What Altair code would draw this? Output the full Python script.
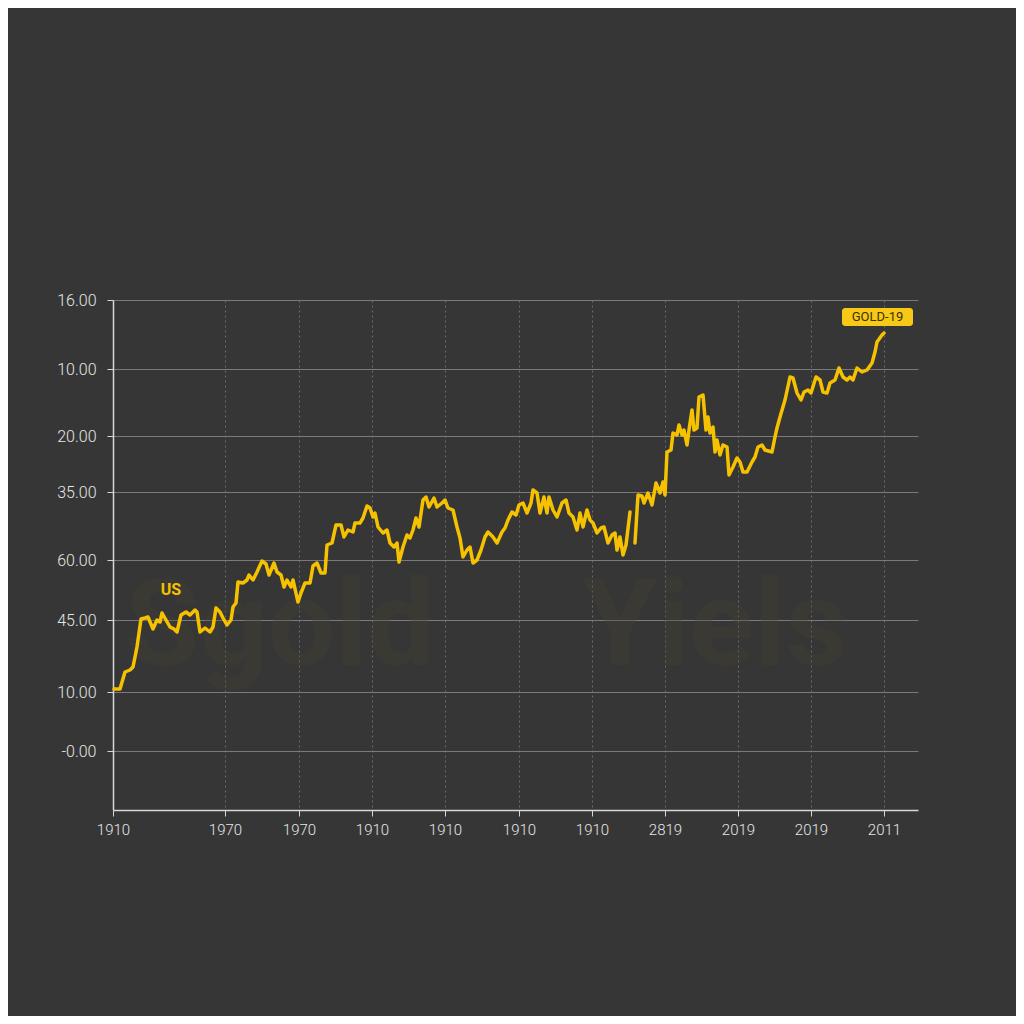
import altair as alt
import pandas as pd

# ---- data ----
# horizontal position (arbitrary time index) and level, segment 1
t1 = [1, 7, 12, 17, 20, 24, 28, 32, 35, 40,
      44, 47, 49, 53, 57, 61, 64, 68, 73, 77,
      82, 84, 87, 92, 97, 100, 103, 107, 110, 114,
      118, 120, 123, 125, 130, 134, 136, 140, 144, 149,
      153, 156, 161, 164, 168, 171, 174, 178, 180, 185,
      188, 192, 197, 200, 204, 208, 212, 214, 219, 223,
      228, 231, 235, 240, 242, 247, 250, 254, 257, 260,
      262, 265, 270, 274, 277, 281, 284, 286, 290, 294,
      297, 300, 303, 306, 310, 313, 316, 321, 324, 329,
      332, 335, 340, 344, 347, 350, 354, 357, 360, 364,
      368, 372, 375, 380, 384, 389, 392, 395, 399, 403,
      406, 410, 414, 418, 420, 424, 427, 431, 434, 436,
      440, 444, 449, 453, 456, 460, 464, 467, 470, 474,
      477, 480, 484, 488, 491, 495, 499, 502, 504, 507,
      510, 513, 517]
v1 = [121, 121, 138, 140, 143, 163, 191, 192, 193, 181,
      190, 188, 197, 190, 183, 181, 178, 195, 198, 195,
      200, 198, 178, 182, 178, 183, 202, 198, 192, 185,
      190, 203, 207, 228, 227, 230, 235, 230, 238, 249,
      246, 235, 247, 238, 235, 223, 230, 223, 230, 208,
      217, 227, 227, 244, 247, 237, 237, 265, 267, 285,
      285, 273, 280, 278, 287, 287, 292, 304, 302, 293,
      297, 283, 277, 280, 267, 263, 267, 248, 263, 275,
      272, 280, 292, 283, 310, 313, 303, 312, 303, 307,
      310, 302, 300, 283, 272, 253, 260, 263, 247, 250,
      260, 273, 278, 273, 267, 278, 282, 290, 298, 295,
      305, 307, 297, 307, 320, 317, 297, 313, 297, 313,
      300, 293, 307, 310, 297, 293, 280, 297, 283, 300,
      290, 287, 277, 282, 283, 267, 275, 277, 260, 273,
      255, 265, 298]
# segment 2 (after the break)
t2 = [522, 525, 529, 531, 535, 539, 543, 547, 550, 552,
      554, 558, 560, 564, 566, 569, 571, 574, 576, 579,
      581, 584, 586, 590, 593, 595, 597, 600, 602, 604,
      607, 610, 614, 616, 620, 624, 627, 630, 634, 639,
      642, 645, 649, 652, 659, 662, 664, 667, 672, 677,
      680, 684, 688, 691, 695, 698, 703, 707, 710, 714,
      717, 722, 726, 730, 734, 737, 740, 744, 749, 754,
      759, 762, 764, 769, 771]
v2 = [267, 315, 314, 307, 317, 305, 327, 317, 328, 315,
      358, 360, 377, 375, 385, 375, 380, 365, 380, 400,
      380, 382, 413, 415, 380, 393, 377, 383, 358, 370,
      355, 365, 363, 335, 343, 352, 348, 338, 338, 348,
      353, 363, 365, 360, 358, 373, 382, 393, 410, 433,
      432, 417, 410, 418, 420, 417, 433, 430, 418, 417,
      427, 430, 442, 433, 430, 433, 430, 442, 438, 440,
      447, 458, 468, 475, 477]
assert len(t1) == len(v1) and len(t2) == len(v2)

# axis ticks and their (odd) labels as printed in the reference
x_ticks = [0, 112, 186, 259, 332, 406, 479, 552, 625, 698, 771]
x_labels = ["1910", "1970", "1970", "1910", "1910", "1910", "1910",
            "2819", "2019", "2019", "2011"]
y_ticks = [510, 441, 374, 318, 250, 190, 118, 59]
y_labels = ["16.00", "10.00", "20.00", "35.00", "60.00", "45.00",
            "10.00", "-0.00"]

# annotations
series_label = "US"
series_label_pos = (58, 220)
badge_text = "GOLD-19"
badge_box = (729, 800, 484, 502)
watermark_words = ["Sgold", "Yiels"]
watermark_pos = [(167, 145), (602, 145)]

X_DOMAIN = [0, 805]
Y_DOMAIN = [0, 510]

YELLOW = "#f6c200"
BG = "#363636"
FONT = "Roboto"


def label_expr(vals, labels):
    expr = "''"
    for v, l in reversed(list(zip(vals, labels))):
        expr = f"datum.value == {v} ? '{l}' : ({expr})"
    return expr


line_df = pd.DataFrame(
    {"t": t1 + t2, "v": v1 + v2,
     "seg": ["a"] * len(t1) + ["b"] * len(t2)}
)

xs = alt.Scale(domain=X_DOMAIN, nice=False, zero=False)
ys = alt.Scale(domain=Y_DOMAIN, nice=False, zero=False)

x_axis = alt.Axis(
    values=x_ticks, labelExpr=label_expr(x_ticks, x_labels), title=None,
    grid=True, gridColor="#6a6a6a", gridDash=[2, 3], gridWidth=1,
    domainColor="#d8d8d8", domainWidth=1.5, tickColor="#d8d8d8",
    tickSize=6, labelColor="#e6e6e6", labelFontSize=15, labelFont=FONT,
    labelFontWeight=300,
    labelPadding=6, labelFlush=False, labelOverlap=False, labelBound=False,
)
y_axis = alt.Axis(
    values=y_ticks, labelExpr=label_expr(y_ticks, y_labels), title=None,
    grid=True, gridColor="#7a7a7a", gridWidth=1.2,
    domainColor="#d8d8d8", domainWidth=1.5, tickColor="#d8d8d8",
    tickSize=6, labelColor="#e6e6e6", labelFontSize=16, labelFont=FONT,
    labelFontWeight=300,
    labelPadding=11, labelOverlap=False, labelFlush=False, labelBound=False,
)

wm_df = pd.DataFrame({
    "t": [p[0] for p in watermark_pos],
    "v": [p[1] for p in watermark_pos],
    "w": watermark_words,
})
watermark = alt.Chart(wm_df).mark_text(
    font=FONT, fontSize=120, fontWeight="bold", color="#45432f",
    opacity=0.3, baseline="alphabetic", align="center",
).encode(
    x=alt.X("t:Q", scale=xs, axis=x_axis),
    y=alt.Y("v:Q", scale=ys, axis=y_axis),
    text="w:N",
)

line = alt.Chart(line_df).mark_line(
    color=YELLOW, strokeWidth=3.5, strokeJoin="round", strokeCap="round",
).encode(
    x=alt.X("t:Q", scale=xs, axis=x_axis),
    y=alt.Y("v:Q", scale=ys, axis=y_axis),
    detail="seg:N",
)

us_df = pd.DataFrame({"t": [series_label_pos[0]], "v": [series_label_pos[1]],
                      "s": [series_label]})
us_text = alt.Chart(us_df).mark_text(
    font=FONT, fontSize=16, fontWeight="bold", color=YELLOW,
    align="center", baseline="middle",
).encode(x="t:Q", y="v:Q", text="s:N")

badge_df = pd.DataFrame({
    "x0": [badge_box[0]], "x1": [badge_box[1]],
    "y0": [badge_box[2]], "y1": [badge_box[3]],
    "xc": [(badge_box[0] + badge_box[1]) / 2],
    "yc": [(badge_box[2] + badge_box[3]) / 2],
    "s": [badge_text],
})
badge_rect = alt.Chart(badge_df).mark_rect(
    color="#f7c815", cornerRadius=3,
).encode(x="x0:Q", x2="x1:Q", y="y0:Q", y2="y1:Q")
badge_label = alt.Chart(badge_df).mark_text(
    font=FONT, fontSize=13, color="#3a3000", align="center", baseline="middle",
).encode(x="xc:Q", y="yc:Q", text="s:N")

chart = alt.layer(
    watermark, line, us_text, badge_rect, badge_label
).properties(
    width=805, height=510,
    autosize=alt.AutoSizeParams(type="none"),
    padding={"left": 105, "top": 292, "right": 98, "bottom": 206},
    background=BG,
).configure_view(stroke=None)

chart.save("out.html", embed_options={"renderer": "svg", "actions": False})
